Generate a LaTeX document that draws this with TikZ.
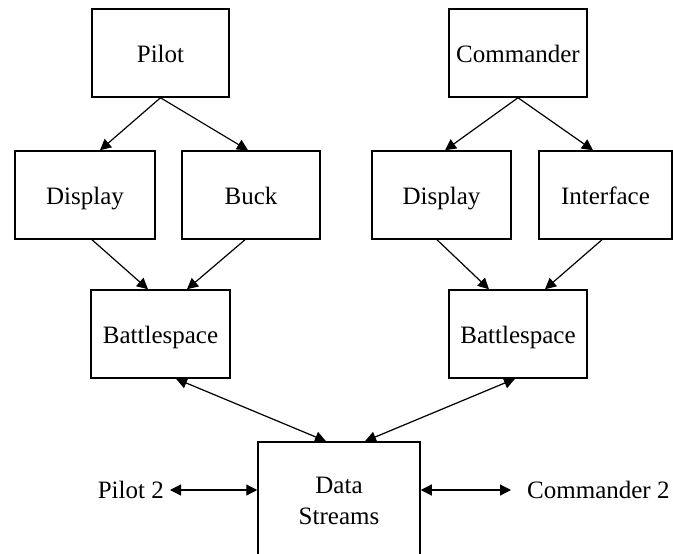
\documentclass[tikz,border=0pt]{standalone}
\usepackage{fontspec}
\setmainfont{Liberation Serif}
\usetikzlibrary{arrows.meta}
\begin{document}
\begin{tikzpicture}[x=1pt,y=-1pt,
  box/.style={draw=black,line width=1.5pt,rectangle,minimum height=88pt,inner sep=0pt,font=\fontsize{25}{29}\selectfont,align=center},
  sbox/.style={box,text height=20pt,text depth=2pt},
  lbl/.style={inner sep=0pt,font=\fontsize{25}{29}\selectfont},
  conn/.style={line width=1.2pt,-{Triangle[length=11pt,width=11pt]}},
  dconn/.style={line width=1.2pt,{Triangle[length=11pt,width=11pt]}-{Triangle[length=11pt,width=11pt]}}]
\useasboundingbox (0,0) rectangle (673,554);
\clip (0,0) rectangle (673,554);
\fill[white] (0,0) rectangle (673,554);
\node[sbox,minimum width=137pt] (pilot) at (160.5,53) {Pilot};
\node[sbox,minimum width=140pt] (disp) at (85,195) {Display};
\node[sbox,minimum width=138pt] (buck) at (251,195) {Buck};
\node[sbox,minimum width=138pt] (cmd) at (518,53) {Commander};
\node[sbox,minimum width=139pt] (disp2) at (441.5,195) {Display};
\node[sbox,minimum width=133pt] (intf) at (605.5,195) {Interface};
\node[sbox,minimum width=139pt] (batL) at (160.5,334) {Battlespace};
\node[sbox,minimum width=138pt] (batR) at (518,334) {Battlespace};
\node[box,minimum width=162pt,minimum height=118pt] (ds) at (339,501) {Data\\[2pt]Streams};
\node[lbl,anchor=east] (p2) at (164,490) {Pilot 2};
\node[lbl,anchor=west] (c2) at (527,490) {Commander 2};
\draw[conn] (pilot.south) -- ([xshift=15pt]disp.north);
\draw[conn] (pilot.south) -- ([xshift=-3pt]buck.north);
\draw[conn] (cmd.south) -- ([xshift=3.5pt]disp2.north);
\draw[conn] (cmd.south) -- ([xshift=-12.5pt]intf.north);
\draw[conn] ([xshift=7pt]disp.south) -- ([xshift=-12.5pt]batL.north);
\draw[conn] ([xshift=-6pt]buck.south) -- ([xshift=26.5pt]batL.north);
\draw[conn] ([xshift=-4.5pt]disp2.south) -- ([xshift=-29pt]batR.north);
\draw[conn] ([xshift=-3.5pt]intf.south) -- ([xshift=27pt]batR.north);
\draw[dconn] ([xshift=15.5pt]batL.south) -- ([xshift=-13pt]ds.north);
\draw[dconn] ([xshift=-3pt]batR.south) -- ([xshift=26pt]ds.north);
\draw[dconn] ([xshift=6pt]p2.east) -- (p2.east -| ds.west);
\draw[dconn] (c2.west -| ds.east) -- ([xshift=-16pt]c2.west);
\end{tikzpicture}
\end{document}
